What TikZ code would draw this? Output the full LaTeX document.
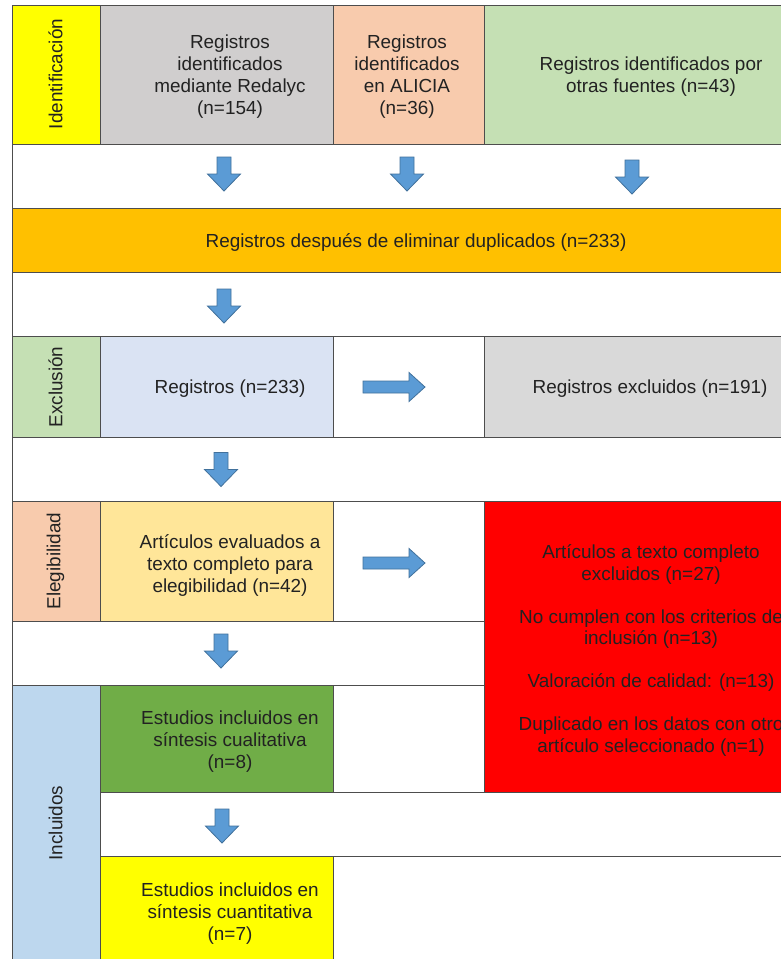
\documentclass[tikz,border=0pt]{standalone}
\usepackage{fontspec}
\setmainfont{Liberation Sans}
\definecolor{cYellow}{HTML}{FFFF00}
\definecolor{cGray}{HTML}{D0CECE}
\definecolor{cPeach}{HTML}{F8CBAD}
\definecolor{cLGreen}{HTML}{C5E0B4}
\definecolor{cOrange}{HTML}{FFC000}
\definecolor{cLBlue}{HTML}{DAE3F3}
\definecolor{cLGray}{HTML}{D9D9D9}
\definecolor{cLYellow}{HTML}{FFE699}
\definecolor{cRed}{HTML}{FF0000}
\definecolor{cGreen}{HTML}{70AD47}
\definecolor{cSky}{HTML}{BDD7EE}
\definecolor{cArrow}{HTML}{5B9BD5}
\definecolor{cArrowLine}{HTML}{41719C}
\definecolor{cLine}{HTML}{4D4D4D}
\definecolor{cText}{HTML}{222222}
\tikzset{
  cellbox/.style={draw=cLine, line width=1pt, inner sep=0pt, outer sep=0pt},
  basetxt/.style={inner sep=0pt, align=center, text=cText, font=\fontsize{18.9}{22}\selectfont},
  txt/.style={basetxt, yshift=-2pt},
  lab/.style={basetxt, rotate=90},
  arrowsty/.style={fill=cArrow, draw=cArrowLine, line width=0.8pt, line join=miter},
  darr/.pic={\path[arrowsty] (-7,-17) -- (7,-17) -- (7,0) -- (16.5,0) -- (0,17) -- (-16.5,0) -- (-7,0) -- cycle;},
  rarr/.pic={\path[arrowsty] (-31,-6) -- (15,-6) -- (15,-14.5) -- (31,0) -- (15,14.5) -- (15,6) -- (-31,6) -- cycle;}
}
\begin{document}
\begin{tikzpicture}[x=1pt,y=-1pt]
\clip (0,0) rectangle (781,959);
\fill[white] (0,0) rectangle (781,959);
% row A
\node[cellbox, fill=cYellow, minimum width=88, minimum height=139] (idlab) at (56,74.5) {};
\node[cellbox, fill=cGray, minimum width=233, minimum height=139] (redalyc) at (216.5,74.5) {};
\node[cellbox, fill=cPeach, minimum width=151, minimum height=139] (alicia) at (408.5,74.5) {};
\node[cellbox, fill=cLGreen, minimum width=346, minimum height=139] (otras) at (657,74.5) {};
% row B
\node[cellbox, fill=white, minimum width=818, minimum height=64] (rowB) at (421,176) {};
% row C
\node[cellbox, fill=cOrange, minimum width=818, minimum height=64] (dup) at (421,240) {};
% row D
\node[cellbox, fill=white, minimum width=818, minimum height=64] (rowD) at (421,304) {};
% row E
\node[cellbox, fill=cLGreen, minimum width=88, minimum height=101] (exlab) at (56,386.5) {};
\node[cellbox, fill=cLBlue, minimum width=233, minimum height=101] (reg) at (216.5,386.5) {};
\node[cellbox, fill=white, minimum width=151, minimum height=101] (gapE) at (408.5,386.5) {};
\node[cellbox, fill=cLGray, minimum width=346, minimum height=101] (excl) at (657,386.5) {};
% row F
\node[cellbox, fill=white, minimum width=818, minimum height=64] (rowF) at (421,469) {};
% row G
\node[cellbox, fill=cPeach, minimum width=88, minimum height=120] (ellab) at (56,561) {};
\node[cellbox, fill=cLYellow, minimum width=233, minimum height=120] (art) at (216.5,561) {};
\node[cellbox, fill=white, minimum width=151, minimum height=120] (gapG) at (408.5,561) {};
\node[cellbox, fill=cRed, minimum width=346, minimum height=291] (red) at (657,646.5) {};
% row H
\node[cellbox, fill=white, minimum width=472, minimum height=64] (rowH) at (248,653) {};
% row I
\node[cellbox, fill=cSky, minimum width=88, minimum height=285] (inlab) at (56,827.5) {};
\node[cellbox, fill=cGreen, minimum width=233, minimum height=107] (cual) at (216.5,738.5) {};
\node[cellbox, fill=white, minimum width=151, minimum height=107] (gapI) at (408.5,738.5) {};
% row J
\node[cellbox, fill=white, minimum width=730, minimum height=64] (rowJ) at (465,824) {};
% row K
\node[cellbox, fill=cYellow, minimum width=233, minimum height=114] (cuant) at (216.5,913) {};
\node[cellbox, fill=white, minimum width=497, minimum height=114] (gapK) at (581.5,913) {};
% labels
\node[lab] (tidlab) at (55.5,74) {Identificación};
\node[lab] (texlab) at (55.5,387) {Exclusión};
\node[lab] (tellab) at (55.5,561) {Elegibilidad};
\node[lab] (tinlab) at (55.5,823) {Incluidos};
% texts
\node[txt] (tredalyc) at (230,75) {Registros\\identificados\\mediante Redalyc\\(n=154)};
\node[txt] (talicia) at (407,75) {Registros\\identificados\\en ALICIA\\(n=36)};
\node[txt] (totras) at (651,75) {Registros identificados por\\otras fuentes (n=43)};
\node[txt] (tdup) at (416,240) {Registros después de eliminar duplicados (n=233)};
\node[txt] (treg) at (230,387) {Registros (n=233)};
\node[txt] (texcl) at (650,387) {Registros excluidos (n=191)};
\node[txt] (tart) at (230,563) {Artículos evaluados a\\texto completo para\\elegibilidad (n=42)};
\node[txt, font=\fontsize{18.9}{21.5}\selectfont] (tred) at (651,648.5) {Artículos a texto completo\\excluidos (n=27)\\[21.5pt]No cumplen con los criterios de\\inclusión (n=13)\\[21.5pt]Valoración de calidad: (n=13)\\[21.5pt]Duplicado en los datos con otro\\artículo seleccionado (n=1)};
\node[txt] (tcual) at (230,740) {Estudios incluidos en\\síntesis cualitativa\\(n=8)};
\node[txt] (tcuant) at (230,912) {Estudios incluidos en\\síntesis cuantitativa\\(n=7)};
% arrows
\pic at (224,174) {darr};
\pic at (407,174) {darr};
\pic at (632,177) {darr};
\pic at (224,306) {darr};
\pic at (394,387) {rarr};
\pic at (221,469.5) {darr};
\pic at (394,563) {rarr};
\pic at (221,651) {darr};
\pic at (222,826) {darr};
\end{tikzpicture}
\end{document}
